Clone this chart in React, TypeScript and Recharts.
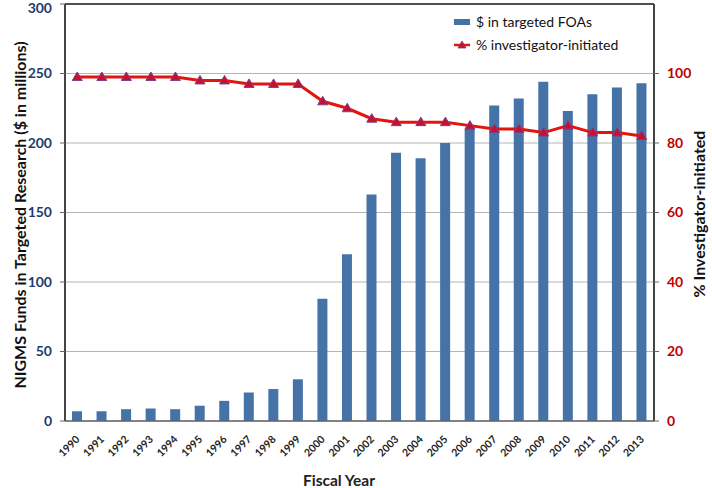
import { Bar, ComposedChart, CartesianGrid, Label, Legend, Line, ReferenceLine, XAxis, YAxis } from "recharts";

const years = [
  "1990", "1991", "1992", "1993", "1994", "1995", "1996", "1997", "1998", "1999", "2000", "2001",
  "2002", "2003", "2004", "2005", "2006", "2007", "2008", "2009", "2010", "2011", "2012", "2013",
];
const targetedFunds = [7, 7, 8.5, 9, 8.5, 11, 14.5, 20.5, 23, 30, 88, 120, 163, 193, 189, 200, 210, 227, 232, 244, 223, 235, 240, 243];
const investigatorPct = [99, 99, 99, 99, 99, 98, 98, 97, 97, 97, 92, 90, 87, 86, 86, 86, 85, 84, 84, 83, 85, 83, 83, 82];
const leftTicks = [0, 50, 100, 150, 200, 250, 300];
const rightTicks = [0, 20, 40, 60, 80, 100];

const data = years.map((year, i) => ({ year, funds: targetedFunds[i], pct: investigatorPct[i] }));

const BAR_COLOR = "#4573a8";
const LINE_COLOR = "#e2150f";
const NAVY = "#1f3c6b";
const DARK_RED = "#c00000";

function Triangle(props: any) {
  const { cx, cy } = props;
  if (cx == null || cy == null) return null;
  return (
    <path
      d={`M${cx},${cy - 5} L${cx + 5},${cy + 3.5} L${cx - 5},${cy + 3.5} Z`}
      fill="#c8102e"
      stroke="#7b3f8c"
      strokeWidth={1}
    />
  );
}

function YearTick(props: any) {
  const { x, y, payload } = props;
  const tx = x + 3;
  const ty = y + 11;
  return (
    <text x={tx} y={ty} transform={`rotate(-45, ${tx}, ${ty})`} textAnchor="end" fontSize={10.5} fontWeight={700} fill="#222">
      {payload.value}
    </text>
  );
}

function LegendBox() {
  const row = { display: "flex", alignItems: "center", height: 23, fontSize: 14, color: "#111" } as const;
  return (
    <div>
      <div style={row}>
        <span style={{ display: "inline-block", width: 16, height: 6, background: BAR_COLOR, marginRight: 6 }} />
        $ in targeted FOAs
      </div>
      <div style={row}>
        <svg width={16} height={10} style={{ marginRight: 6 }}>
          <line x1={0} y1={5} x2={16} y2={5} stroke={LINE_COLOR} strokeWidth={2.5} />
          <path d="M8,1 L12,8 L4,8 Z" fill="#c8102e" stroke="#7b3f8c" strokeWidth={0.8} />
        </svg>
        % investigator-initiated
      </div>
    </div>
  );
}

export default function App() {
  return (
    <div style={{ position: "absolute", left: 0, top: 0, width: 712, height: 488, background: "#fff", fontFamily: "Lato, 'Open Sans', sans-serif" }}>
      <ComposedChart width={712} height={488} data={data} margin={{ top: 4, right: 0, bottom: 0, left: 0 }}>
        <CartesianGrid yAxisId="left" vertical={false} stroke="#b5b5b5" strokeWidth={1.2} />
        <XAxis dataKey="year" height={67} tick={<YearTick />} tickLine={false} axisLine={{ stroke: "#666", strokeWidth: 1.5 }} interval={0}>
          <Label
            content={() => (
              <text x={339} y={486} textAnchor="middle" fontSize={15.5} fontWeight={700} fill="#222">
                Fiscal Year
              </text>
            )}
          />
        </XAxis>
        <YAxis
          yAxisId="left"
          width={65}
          domain={[0, 300]}
          ticks={leftTicks}
          tickSize={5}
          tickMargin={8}
          tick={{ fill: NAVY, fontSize: 14, fontWeight: 700 }}
          tickLine={{ stroke: "#666" }}
          axisLine={{ stroke: "#444", strokeWidth: 2 }}
        >
          <Label
            content={() => (
              <text x={19} y={215} transform="rotate(-90, 19, 215)" textAnchor="middle" dominantBaseline="central" fontSize={16} fontWeight={700} fill="#111">
                NIGMS Funds in Targeted Research ($ in millions)
              </text>
            )}
          />
        </YAxis>
        <YAxis
          yAxisId="right"
          orientation="right"
          width={58}
          domain={[0, 120]}
          ticks={rightTicks}
          tickSize={5}
          tickMargin={8}
          tick={{ fill: DARK_RED, fontSize: 14, fontWeight: 700 }}
          tickLine={{ stroke: "#666" }}
          axisLine={{ stroke: "#444", strokeWidth: 2 }}
        >
          <Label
            content={() => (
              <text x={698} y={214} transform="rotate(-90, 698, 214)" textAnchor="middle" dominantBaseline="central" fontSize={16} fontWeight={700} fill="#111">
                % Investigator-initiated
              </text>
            )}
          />
        </YAxis>
        <ReferenceLine yAxisId="left" y={300} stroke="#222" strokeWidth={1.5} />
        <Legend
          layout="horizontal"
          verticalAlign="middle"
          align="center"
          wrapperStyle={{ top: 10, left: 454, width: 200 }}
          content={() => <LegendBox />}
        />
        <Bar yAxisId="left" dataKey="funds" name="$ in targeted FOAs" fill={BAR_COLOR} barSize={10} isAnimationActive={false} />
        <Line
          yAxisId="right"
          type="linear"
          dataKey="pct"
          name="% investigator-initiated"
          stroke={LINE_COLOR}
          strokeWidth={3}
          dot={<Triangle />}
          activeDot={false}
          isAnimationActive={false}
        />
      </ComposedChart>
    </div>
  );
}
